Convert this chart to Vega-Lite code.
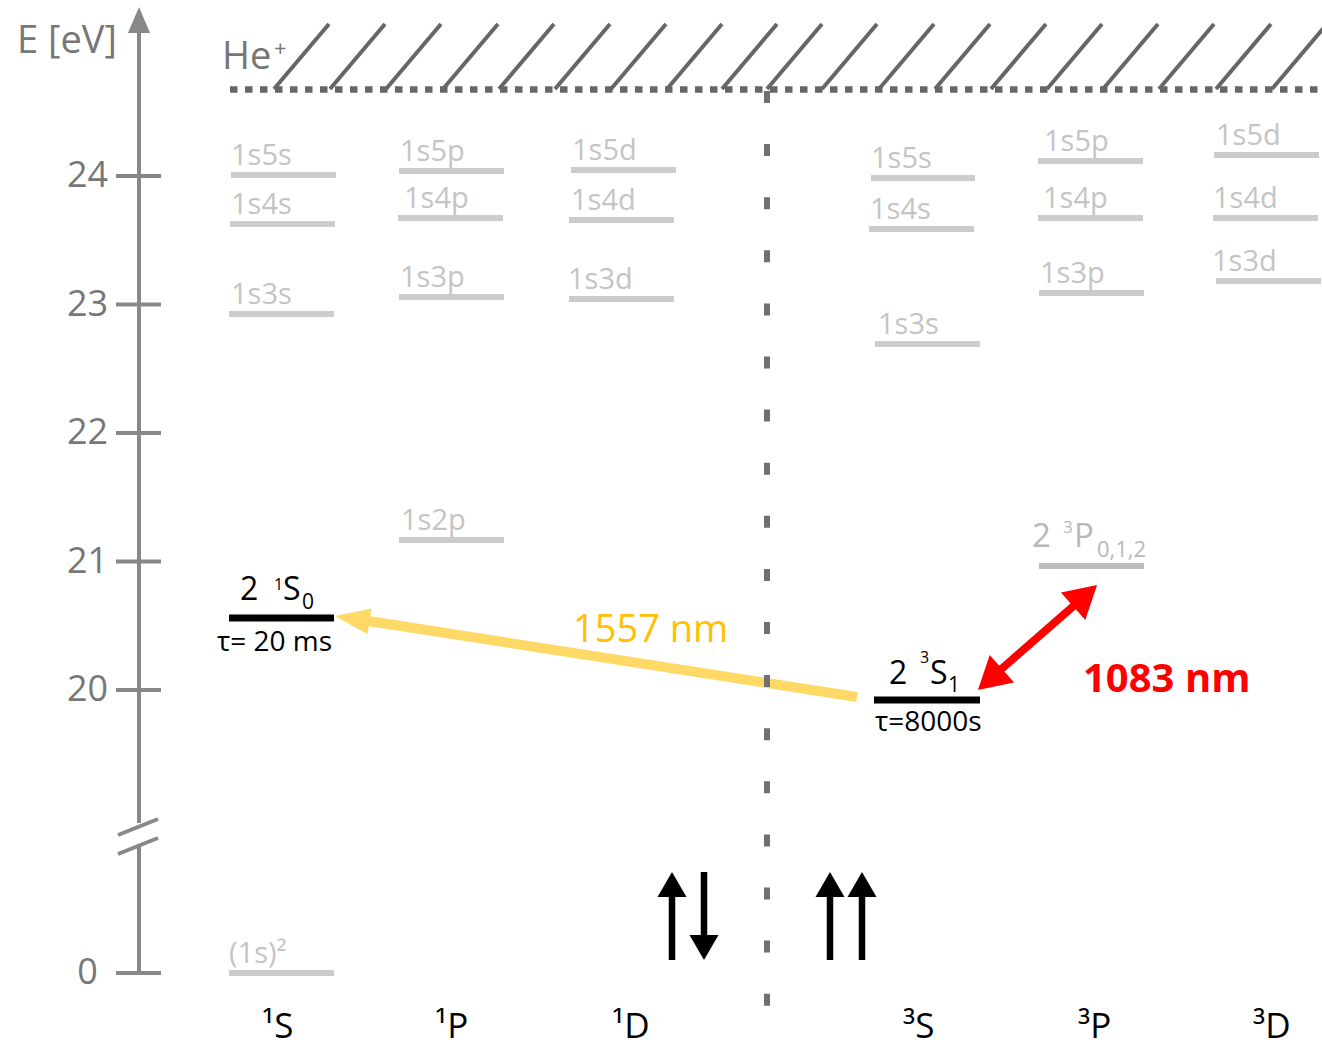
{
  "$schema": "https://vega.github.io/schema/vega-lite/v6.json",
  "width": 1322,
  "height": 1047,
  "padding": 0,
  "autosize": {"type": "none"},
  "background": "white",
  "config": {"view": {"stroke": null}, "font": "Open Sans", "text": {"font": "Open Sans"}},
  "datasets": {
    "hatch": [
      {"x": 274, "y": 24.677, "x2": 329, "y2": 25.1829},
      {"x": 330, "y": 24.677, "x2": 385, "y2": 25.1829},
      {"x": 386, "y": 24.677, "x2": 441, "y2": 25.1829},
      {"x": 443, "y": 24.677, "x2": 498, "y2": 25.1829},
      {"x": 499, "y": 24.677, "x2": 554, "y2": 25.1829},
      {"x": 555, "y": 24.677, "x2": 610, "y2": 25.1829},
      {"x": 611, "y": 24.677, "x2": 666, "y2": 25.1829},
      {"x": 667, "y": 24.677, "x2": 722, "y2": 25.1829},
      {"x": 722, "y": 24.677, "x2": 777, "y2": 25.1829},
      {"x": 767, "y": 24.677, "x2": 822, "y2": 25.1829},
      {"x": 822, "y": 24.677, "x2": 877, "y2": 25.1829},
      {"x": 879, "y": 24.677, "x2": 934, "y2": 25.1829},
      {"x": 935, "y": 24.677, "x2": 990, "y2": 25.1829},
      {"x": 991, "y": 24.677, "x2": 1046, "y2": 25.1829},
      {"x": 1047, "y": 24.677, "x2": 1102, "y2": 25.1829},
      {"x": 1103, "y": 24.677, "x2": 1158, "y2": 25.1829},
      {"x": 1159, "y": 24.677, "x2": 1214, "y2": 25.1829},
      {"x": 1216, "y": 24.677, "x2": 1271, "y2": 25.1829},
      {"x": 1272, "y": 24.677, "x2": 1327, "y2": 25.1829}
    ],
    "dots": [{"x": 230, "x2": 1322, "y": 24.673}],
    "gray": [
      {"t": "1s5s", "x": 231, "x2": 336, "y": 24.0078, "lx": 231},
      {"t": "1s4s", "x": 230, "x2": 335, "y": 23.6265, "lx": 231},
      {"t": "1s3s", "x": 229, "x2": 334, "y": 22.9261, "lx": 231},
      {"t": "(1s)²", "x": 229, "x2": 334, "y": 17.7977, "lx": 229},
      {"t": "1s5p", "x": 399, "x2": 504, "y": 24.0389, "lx": 400},
      {"t": "1s4p", "x": 398, "x2": 503, "y": 23.6732, "lx": 404},
      {"t": "1s3p", "x": 399, "x2": 504, "y": 23.0584, "lx": 400},
      {"t": "1s2p", "x": 399, "x2": 504, "y": 21.1673, "lx": 401},
      {"t": "1s5d", "x": 571, "x2": 676, "y": 24.0467, "lx": 572},
      {"t": "1s4d", "x": 569, "x2": 674, "y": 23.6576, "lx": 571},
      {"t": "1s3d", "x": 569, "x2": 674, "y": 23.0428, "lx": 568},
      {"t": "1s5s", "x": 871, "x2": 975, "y": 23.9844, "lx": 871},
      {"t": "1s4s", "x": 869, "x2": 974, "y": 23.5875, "lx": 870},
      {"t": "1s3s", "x": 875, "x2": 980, "y": 22.6926, "lx": 878},
      {"t": "1s5p", "x": 1038, "x2": 1143, "y": 24.1167, "lx": 1044},
      {"t": "1s4p", "x": 1038, "x2": 1143, "y": 23.6732, "lx": 1043},
      {"t": "1s3p", "x": 1039, "x2": 1144, "y": 23.0895, "lx": 1040},
      {"t": "1s5d", "x": 1214, "x2": 1319, "y": 24.1634, "lx": 1216},
      {"t": "1s4d", "x": 1213, "x2": 1318, "y": 23.6732, "lx": 1213},
      {"t": "1s3d", "x": 1216, "x2": 1321, "y": 23.1829, "lx": 1212}
    ],
    "p23": [{"x": 1039, "x2": 1144, "y": 20.965}],
    "black": [
      {"x": 229, "x2": 334, "y": 20.5603},
      {"x": 874, "x2": 980, "y": 19.9222}
    ],
    "yshaft": [{"x": 857, "y": 19.9455, "x2": 362, "y2": 20.5447}],
    "yhead": [{"x": 352.3, "y": 20.5549, "angle": 278.8}],
    "rshaft": [{"x": 990, "y": 20.0856, "x2": 1085, "y2": 20.7315}],
    "rhead": [
      {"x": 1085.1, "y": 20.7338, "angle": 48.6},
      {"x": 989.9, "y": 20.0833, "angle": 228.6}
    ],
    "sep": [{"x": 767, "y": 24.6615, "y2": 17.5331}],
    "spinShaft": [
      {"x": 672, "y": 17.8988, "y2": 18.4436},
      {"x": 704, "y": 18.5837, "y2": 18.0389},
      {"x": 830, "y": 17.8988, "y2": 18.4436},
      {"x": 862, "y": 17.8988, "y2": 18.4436}
    ],
    "spinHead": [
      {"x": 672, "y": 18.4864, "angle": 0},
      {"x": 704, "y": 17.9961, "angle": 180},
      {"x": 830, "y": 18.4864, "angle": 0},
      {"x": 862, "y": 18.4864, "angle": 0}
    ],
    "axisLines": [
      {"x": 139, "y": 17.7977, "x2": 139, "y2": 18.7938},
      {"x": 139, "y": 18.965, "x2": 139, "y2": 25.1362},
      {"x": 118, "y": 18.8716, "x2": 158, "y2": 18.9961},
      {"x": 118, "y": 18.7237, "x2": 158, "y2": 18.8483},
      {"x": 116, "y": 24, "x2": 161, "y2": 24},
      {"x": 116, "y": 23, "x2": 161, "y2": 23},
      {"x": 116, "y": 22, "x2": 161, "y2": 22},
      {"x": 116, "y": 21, "x2": 161, "y2": 21},
      {"x": 116, "y": 20, "x2": 161, "y2": 20},
      {"x": 116, "y": 17.7977, "x2": 161, "y2": 17.7977}
    ],
    "axisHead": [{"x": 139, "y": 25.214, "angle": 0}],
    "bigBlack": [
      {"t": "2", "x": 240, "y": 20.7004},
      {"t": "S", "x": 283, "y": 20.7004},
      {"t": "2", "x": 889, "y": 20.0467},
      {"t": "S", "x": 930, "y": 20.0467}
    ],
    "supBlack": [
      {"t": "1", "x": 274, "y": 20.7782},
      {"t": "3", "x": 920, "y": 20.2101}
    ],
    "subBlack": [
      {"t": "0", "x": 302, "y": 20.6304},
      {"t": "1", "x": 948, "y": 19.9844}
    ],
    "tau": [
      {"t": "τ= 20 ms", "x": 217, "y": 20.3035},
      {"t": "τ=8000s", "x": 875, "y": 19.6809}
    ],
    "pBig": [
      {"t": "2", "x": 1032, "y": 21.1128},
      {"t": "P", "x": 1074, "y": 21.1128}
    ],
    "pSup": [{"t": "3", "x": 1063, "y": 21.2218}],
    "pSub": [{"t": "0,1,2", "x": 1097, "y": 21.035}],
    "cols": [
      {"t": "¹S", "x": 262, "y": 17.2918},
      {"t": "¹P", "x": 435, "y": 17.2918},
      {"t": "¹D", "x": 612, "y": 17.2918},
      {"t": "³S", "x": 903, "y": 17.2918},
      {"t": "³P", "x": 1078, "y": 17.2918},
      {"t": "³D", "x": 1253, "y": 17.2918}
    ],
    "grayBig": [
      {"t": "E [eV]", "x": 17, "y": 24.9572},
      {"t": "He", "x": 222, "y": 24.8327}
    ],
    "plus": [{"t": "+", "x": 274, "y": 24.9339}],
    "yellowLabel": [{"t": "1557 nm", "x": 573, "y": 20.3735}],
    "redLabel": [{"t": "1083 nm", "x": 1083, "y": 19.9844}]
  },
  "encoding": {
    "x": {"field": "x", "type": "quantitative", "scale": {"domain": [0, 1322], "nice": false, "zero": false}, "axis": null},
    "y": {
      "field": "y",
      "type": "quantitative",
      "scale": {"domain": [17.2218, 25.3696], "nice": false, "zero": false},
      "axis": {
        "values": [17.7977, 20, 21, 22, 23, 24],
        "labelExpr": "datum.value < 19 ? '0' : format(datum.value, 'd')",
        "offset": -139,
        "domain": false,
        "ticks": false,
        "grid": false,
        "title": null,
        "labelFontSize": 36,
        "labelColor": "#777777",
        "labelFont": "Open Sans",
        "labelAlign": "center",
        "labelBaseline": "middle",
        "labelPadding": 52,
        "labelOverlap": false
      }
    }
  },
  "layer": [
    {"data": {"name": "hatch"}, "mark": {"type": "rule", "color": "#666666", "strokeWidth": 4}, "encoding": {"x2": {"field": "x2"}, "y2": {"field": "y2"}}},
    {"data": {"name": "dots"}, "mark": {"type": "rule", "color": "#666666", "strokeWidth": 6.5, "strokeDash": [7.5, 7.5]}, "encoding": {"x2": {"field": "x2"}}},
    {"data": {"name": "gray"}, "mark": {"type": "rule", "color": "#cccccc", "strokeWidth": 6}, "encoding": {"x2": {"field": "x2"}}},
    {"data": {"name": "gray"}, "mark": {"type": "text", "color": "#c4c4c4", "fontSize": 29, "align": "left", "baseline": "alphabetic", "dy": -10}, "encoding": {"x": {"field": "lx", "type": "quantitative", "scale": {"domain": [0, 1322], "nice": false, "zero": false}, "axis": null}, "text": {"field": "t"}}},
    {"data": {"name": "p23"}, "mark": {"type": "rule", "color": "#bdbdbd", "strokeWidth": 6}, "encoding": {"x2": {"field": "x2"}}},
    {"data": {"name": "black"}, "mark": {"type": "rule", "color": "#000000", "strokeWidth": 7}, "encoding": {"x2": {"field": "x2"}}},
    {"data": {"name": "yshaft"}, "mark": {"type": "rule", "color": "#ffd966", "strokeWidth": 10}, "encoding": {"x2": {"field": "x2"}, "y2": {"field": "y2"}}},
    {"data": {"name": "yhead"}, "mark": {"type": "point", "shape": "M0,-1L0.75,1L-0.75,1Z", "filled": true, "size": 1225, "color": "#ffd966", "opacity": 1}, "encoding": {"angle": {"field": "angle", "type": "quantitative", "scale": null}}},
    {"data": {"name": "sep"}, "mark": {"type": "rule", "color": "#707070", "strokeWidth": 6, "strokeDash": [12, 41.1]}, "encoding": {"y2": {"field": "y2"}}},
    {"data": {"name": "rshaft"}, "mark": {"type": "rule", "color": "#ff0000", "strokeWidth": 8}, "encoding": {"x2": {"field": "x2"}, "y2": {"field": "y2"}}},
    {"data": {"name": "rhead"}, "mark": {"type": "point", "shape": "M0,-1L1.15,1L-1.15,1Z", "filled": true, "size": 1024, "color": "#ff0000", "opacity": 1}, "encoding": {"angle": {"field": "angle", "type": "quantitative", "scale": null}}},
    {"data": {"name": "spinShaft"}, "mark": {"type": "rule", "color": "#000000", "strokeWidth": 6.5}, "encoding": {"y2": {"field": "y2"}}},
    {"data": {"name": "spinHead"}, "mark": {"type": "point", "shape": "M0,-1L1.16,1L-1.16,1Z", "filled": true, "size": 625, "color": "#000000", "opacity": 1}, "encoding": {"angle": {"field": "angle", "type": "quantitative", "scale": null}}},
    {"data": {"name": "axisLines"}, "mark": {"type": "rule", "color": "#888888", "strokeWidth": 4}, "encoding": {"x2": {"field": "x2"}, "y2": {"field": "y2"}}},
    {"data": {"name": "axisHead"}, "mark": {"type": "point", "shape": "M0,-1L0.85,1L-0.85,1Z", "filled": true, "size": 676, "color": "#888888", "opacity": 1}, "encoding": {"angle": {"field": "angle", "type": "quantitative", "scale": null}}},
    {"data": {"name": "bigBlack"}, "mark": {"type": "text", "color": "#000000", "fontSize": 32, "align": "left", "baseline": "alphabetic"}, "encoding": {"text": {"field": "t"}}},
    {"data": {"name": "supBlack"}, "mark": {"type": "text", "color": "#000000", "fontSize": 16, "align": "left", "baseline": "alphabetic"}, "encoding": {"text": {"field": "t"}}},
    {"data": {"name": "subBlack"}, "mark": {"type": "text", "color": "#000000", "fontSize": 21, "align": "left", "baseline": "alphabetic"}, "encoding": {"text": {"field": "t"}}},
    {"data": {"name": "tau"}, "mark": {"type": "text", "color": "#000000", "fontSize": 28, "align": "left", "baseline": "alphabetic"}, "encoding": {"text": {"field": "t"}}},
    {"data": {"name": "pBig"}, "mark": {"type": "text", "color": "#b8b8b8", "fontSize": 33, "align": "left", "baseline": "alphabetic"}, "encoding": {"text": {"field": "t"}}},
    {"data": {"name": "pSup"}, "mark": {"type": "text", "color": "#b8b8b8", "fontSize": 17, "align": "left", "baseline": "alphabetic"}, "encoding": {"text": {"field": "t"}}},
    {"data": {"name": "pSub"}, "mark": {"type": "text", "color": "#b8b8b8", "fontSize": 22, "align": "left", "baseline": "alphabetic"}, "encoding": {"text": {"field": "t"}}},
    {"data": {"name": "cols"}, "mark": {"type": "text", "color": "#000000", "fontSize": 35, "align": "left", "baseline": "alphabetic"}, "encoding": {"text": {"field": "t"}}},
    {"data": {"name": "grayBig"}, "mark": {"type": "text", "color": "#777777", "fontSize": 38, "align": "left", "baseline": "alphabetic"}, "encoding": {"text": {"field": "t"}}},
    {"data": {"name": "plus"}, "mark": {"type": "text", "color": "#777777", "fontSize": 22, "align": "left", "baseline": "alphabetic"}, "encoding": {"text": {"field": "t"}}},
    {"data": {"name": "yellowLabel"}, "mark": {"type": "text", "color": "#ffc000", "fontSize": 38, "align": "left", "baseline": "alphabetic"}, "encoding": {"text": {"field": "t"}}},
    {"data": {"name": "redLabel"}, "mark": {"type": "text", "color": "#ff0000", "fontSize": 40, "fontWeight": "bold", "align": "left", "baseline": "alphabetic"}, "encoding": {"text": {"field": "t"}}}
  ]
}
